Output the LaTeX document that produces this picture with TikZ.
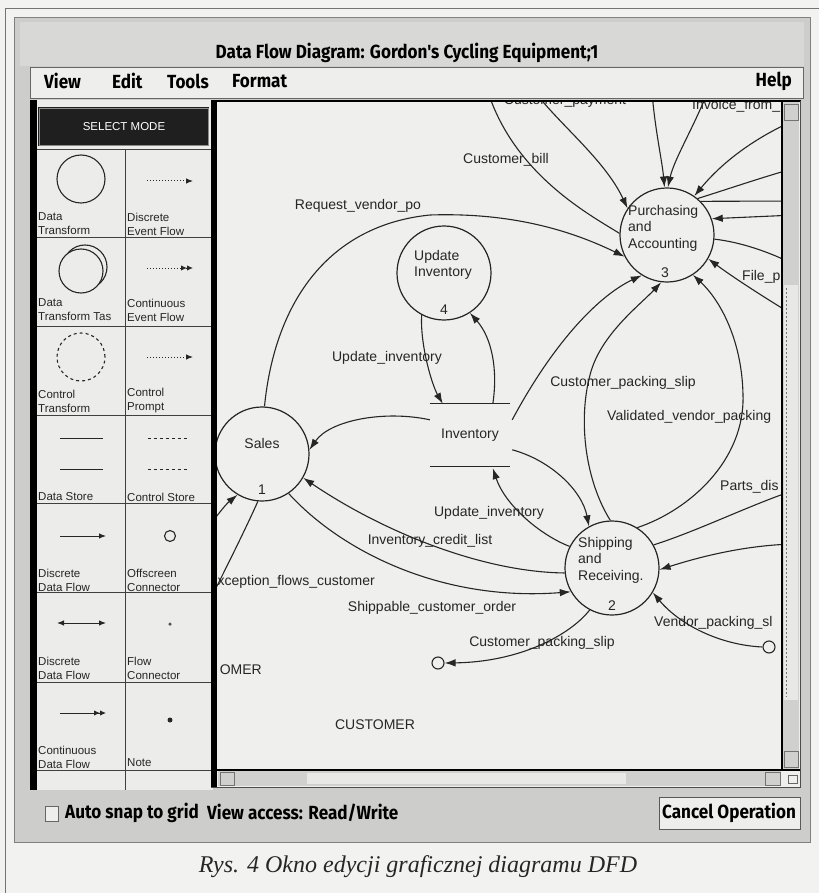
\documentclass[tikz,border=0pt]{standalone}
\usepackage{fontspec}
\setmainfont{Liberation Sans}
\newfontfamily\uifont[FakeStretch=0.9]{Fira Sans}
\newfontfamily\capfont{Liberation Serif}
\usetikzlibrary{arrows.meta,calc}

\definecolor{pagebg}{HTML}{F2F2F0}
\definecolor{winframe}{HTML}{CDCDCB}
\definecolor{titlebar}{HTML}{D8D8D6}
\definecolor{menubg}{HTML}{EEEEEC}
\definecolor{canvasbg}{HTML}{EFEFED}
\definecolor{cellbg}{HTML}{ECECEA}
\definecolor{ink}{HTML}{262626}
\definecolor{trackgray}{HTML}{D0D0CE}
\definecolor{thumbgray}{HTML}{E8E8E6}

\tikzset{
  flow/.style={draw=ink, line width=1.1pt},
  headed/.style={flow, -{Latex[length=11pt,width=7.5pt]}},
  proc/.style={circle, draw=ink, line width=1.2pt, minimum size=94pt, inner sep=0pt},
  store/.style={rectangle, minimum width=80pt, minimum height=62pt, inner sep=0pt,
                font=\fontsize{14}{16}\selectfont, text=ink},
  lbl/.style={font=\fontsize{14}{16.5}\selectfont, text=ink, inner sep=0pt},
  offconn/.style={circle, draw=ink, line width=1.1pt, minimum size=12pt, inner sep=0pt},
  palcell/.style={font=\fontsize{11.5}{14}\selectfont, text=ink, inner sep=0pt, anchor=west, align=left},
  palline/.style={draw=ink, line width=1pt},
  paltip/.style={-{Latex[length=7pt,width=5.5pt]}},
  paltwin/.style={-{Latex[length=6pt,width=5.5pt]Latex[length=6pt,width=5.5pt]}},
  palboth/.style={{Latex[length=7pt,width=5.5pt]}-{Latex[length=7pt,width=5.5pt]}},
  uitext/.style={font=\uifont\bfseries\fontsize{19}{21}\selectfont, text=black, inner sep=0pt},
  gridrule/.style={draw=black!75, line width=0.9pt},
}

\begin{document}
\begin{tikzpicture}[x=1pt,y=-1pt]
\useasboundingbox (0,0) rectangle (819,893);
\fill[pagebg] (0,0) rectangle (819,893);
% page rules
\draw[black!55, line width=1pt] (5,893) -- (5,9) -- (819,9);

% ---------- window chrome ----------
\fill[winframe] (14,18) rectangle (810,842);
\draw[black!50, line width=1pt] (14,18) rectangle (810,842);
\fill[titlebar] (20,22) rectangle (804,66);
\node[uitext] (title) at (407,53) {Data Flow Diagram: Gordon's Cycling Equipment;1};
\fill[menubg] (30,67) rectangle (803,98);
\draw[black!60, line width=0.8pt] (30,67) rectangle (803,98);
\node[uitext, anchor=west] (mView) at (44,81) {View};
\node[uitext, anchor=west] (mEdit) at (112,81) {Edit};
\node[uitext, anchor=west] (mTools) at (167,81) {Tools};
\node[uitext, anchor=west] (mFormat) at (232,81) {Format};
\node[uitext, anchor=east] (mHelp) at (792,81) {Help};

% ---------- tool palette ----------
\fill[cellbg] (37,100) rectangle (213,790);
\fill[black] (30,100) rectangle (37,790);
\fill[black!88] (38,107) rectangle (209,146);
\draw[black!45, line width=0.8pt] (39,108) rectangle (208,145);
\node[font=\fontsize{11.5}{13}\selectfont, text=white, inner sep=0pt] (selmode) at (124,127) {SELECT MODE};
\foreach \yy in {149,237,326,415,503,592,682,770} \draw[gridrule] (37,\yy) -- (213,\yy);
\draw[gridrule] (125,149) -- (125,790);

% row 1
\node[circle, draw=ink, line width=1.1pt, minimum size=48pt, inner sep=0pt] (symDT) at (81,179) {};
\node[palcell] (labDT) at (38,224) {Data\\Transform};
\coordinate (devA) at (147,181); \coordinate (devB) at (193,181);
\draw[palline, dotted, paltip] (devA) -- (devB);
\node[palcell] (labDEV) at (127,224) {Discrete\\Event Flow};
% row 2
\node[circle, draw=ink, line width=1.1pt, minimum size=44pt, inner sep=0pt] (symTT1) at (85,267) {};
\node[circle, draw=ink, fill=cellbg, line width=1.1pt, minimum size=44pt, inner sep=0pt] (symTT2) at (81,271) {};
\node[palcell] (labTT) at (38,310) {Data\\Transform Tas};
\coordinate (cevA) at (147,268); \coordinate (cevB) at (193,268);
\draw[palline, dotted, paltwin] (cevA) -- (cevB);
\node[palcell] (labCEV) at (127,310) {Continuous\\Event Flow};
% row 3
\node[circle, draw=ink, dash pattern=on 3pt off 3pt, line width=1.1pt, minimum size=48pt, inner sep=0pt] (symCT) at (81,357) {};
\node[palcell] (labCT) at (38,401) {Control\\Transform};
\coordinate (cpA) at (147,357); \coordinate (cpB) at (193,357);
\draw[palline, dotted, paltip] (cpA) -- (cpB);
\node[palcell] (labCP) at (127,401) {Control\\Prompt};
% row 4
\coordinate (dsA) at (60,438); \coordinate (dsB) at (103,438);
\coordinate (dsC) at (60,469); \coordinate (dsD) at (103,469);
\draw[palline] (dsA) -- (dsB); \draw[palline] (dsC) -- (dsD);
\node[palcell] (labDS) at (38,497) {Data Store};
\coordinate (csA) at (148,438); \coordinate (csB) at (189,438);
\coordinate (csC) at (148,469); \coordinate (csD) at (189,469);
\draw[palline, dash pattern=on 3pt off 3pt] (csA) -- (csB);
\draw[palline, dash pattern=on 3pt off 3pt] (csC) -- (csD);
\node[palcell] (labCS) at (127,497) {Control Store};
% row 5
\coordinate (ddA) at (60,536); \coordinate (ddB) at (106,536);
\draw[palline, paltip] (ddA) -- (ddB);
\node[palcell] (labDD) at (38,580) {Discrete\\Data Flow};
\node[circle, draw=ink, line width=1.1pt, minimum size=11pt, inner sep=0pt] (symOC) at (170,536) {};
\node[palcell] (labOC) at (127,580) {Offscreen\\Connector};
% row 6
\coordinate (bdA) at (57,623); \coordinate (bdB) at (106,623);
\draw[palline, palboth] (bdA) -- (bdB);
\node[palcell] (labBD) at (38,668) {Discrete\\Data Flow};
\node[circle, fill=ink!80, minimum size=3.5pt, inner sep=0pt] (symFC) at (170,624) {};
\node[palcell] (labFC) at (127,668) {Flow\\Connector};
% row 7
\coordinate (cdA) at (60,713); \coordinate (cdB) at (106,713);
\draw[palline, paltwin] (cdA) -- (cdB);
\node[palcell] (labCD) at (38,757) {Continuous\\Data Flow};
\node[circle, fill=ink, minimum size=5pt, inner sep=0pt] (symNote) at (170,720) {};
\node[palcell] (labNote) at (127,763) {Note};

% ---------- drawing canvas ----------
\fill[canvasbg] (213,100) rectangle (800,787);
\begin{scope}
  \clip (217,102) rectangle (782,770);

  % processes
  \node[proc] (sales) at (262,454) {};
  \node[proc] (upd) at (444,273) {};
  \node[proc] (purch) at (667,235) {};
  \node[proc] (ship) at (612,568) {};
  \node[lbl] (salesName) at (262,443) {Sales};
  \node[lbl] (salesNum) at (262,490) {1};
  \node[lbl, align=left] (updName) at (443,265) {Update\\Inventory};
  \node[lbl] (updNum) at (444,310) {4};
  \node[lbl, align=left, anchor=west] (purchName) at (628,228) {Purchasing\\and\\Accounting};
  \node[lbl] (purchNum) at (665,273) {3};
  \node[lbl, align=left, anchor=west] (shipName) at (578,560) {Shipping\\and\\Receiving.};
  \node[lbl] (shipNum) at (612,606) {2};

  % data store
  \node[store] (inv) at (470,435) {Inventory};
  \draw[flow] (inv.north west) -- (inv.north east);
  \draw[flow] (inv.south west) -- (inv.south east);

  % offscreen connectors
  \node[offconn] (offL) at (438,663) {};
  \node[offconn] (offR) at (769,647) {};

  % external entity names
  \node[lbl, anchor=east] (custA) at (262,670) {OMER};
  \node[lbl] (custB) at (375,725) {CUSTOMER};

  % free ends of flows leaving the visible area
  \coordinate (cbEnd) at (488,92);
  \coordinate (cpStart) at (535,92);
  \coordinate (topStart) at (652,92);
  \coordinate (invStart) at (706,96);
  \coordinate (eStart) at (795,120);
  \coordinate (fStart) at (795,168);
  \coordinate (gStart) at (795,201);
  \coordinate (hStart) at (795,215);
  \coordinate (iEnd) at (795,265);
  \coordinate (fileStart) at (795,316);
  \coordinate (partsEnd) at (795,490);
  \coordinate (rinStart) at (795,544);
  \coordinate (exIn) at (205,532);
  \coordinate (exOut) at (212,596);

  % flows around Update Inventory and the Inventory store
  \draw[headed] (upd.-118) .. controls (420,345) and (432,385) .. ($(inv.north west)+(13,0)$);
  \draw[headed] ($(inv.north west)+(63,0)$) .. controls (498,370) and (492,338) .. (upd.-57);
  \draw[headed] ($(inv.north west)+(0,16)$) .. controls (385,410) and (330,420) .. (sales.5);
  \draw[headed] (ship.153) .. controls (540,535) and (505,505) .. ($(inv.south west)+(63,2)$);
  \draw[headed] ($(inv.north east)+(2,46)$) .. controls (550,460) and (582,490) .. (ship.119);
  \draw[headed] ($(inv.north east)+(2,16)$) .. controls (555,340) and (600,295) .. (purch.-122);

  % flows between the processes
  \draw[headed] (sales.87) .. controls (275,300) and (330,225) .. (430,215)
                .. controls (520,212) and (580,235) .. (purch.207);
  \draw[headed] (ship.92) .. controls (585,480) and (578,420) .. (590,375)
                .. controls (600,335) and (640,305) .. (purch.-97);
  \draw[headed] (ship.58) .. controls (690,510) and (745,460) .. (743,395)
                .. controls (742,340) and (720,300) .. (purch.-57);
  \draw[headed] (sales.-56) .. controls (340,550) and (440,602) .. (ship.-150);
  \draw[headed] (ship.186) .. controls (480,572) and (380,530) .. (sales.-30);

  % flows to and from the edges
  \draw[flow] (purch.178) .. controls (590,215) and (515,175) .. (cbEnd);
  \draw[headed] (cpStart) .. controls (560,125) and (605,160) .. (purch.146);
  \draw[headed] (topStart) .. controls (655,130) and (662,160) .. (purch.93);
  \draw[headed] (invStart) .. controls (692,130) and (674,160) .. (purch.89);
  \draw[headed] (eStart) .. controls (750,140) and (720,165) .. (purch.55);
  \draw[flow] (fStart) .. controls (760,178) and (725,190) .. (purch.50);
  \draw[flow] (gStart) -- (purch.45);
  \draw[headed] (hStart) -- (purch.20);
  \draw[flow] (purch.-5) .. controls (740,242) and (770,252) .. (iEnd);
  \draw[headed] (fileStart) .. controls (760,295) and (730,275) .. (purch.-30);
  \draw[flow] (ship.29) .. controls (700,530) and (750,505) .. (partsEnd);
  \draw[headed] (rinStart) .. controls (740,545) and (690,560) .. (ship.-2);
  \draw[headed] (offR.west) .. controls (720,645) and (680,625) .. (ship.-31);
  \draw[headed] (ship.-118) .. controls (570,635) and (520,662) .. (offL.east);
  \draw[headed] (exIn) .. controls (215,518) and (225,505) .. (sales.-121);
  \draw[flow] (sales.-95) .. controls (245,530) and (230,560) .. (exOut);

  % flow names
  \node[lbl] (tReq) at (358,206) {Request\_vendor\_po};
  \node[lbl] (tBill) at (506,160) {Customer\_bill};
  \node[lbl] (tPay) at (565,101) {Customer\_payment};
  \node[lbl, anchor=west] (tInv) at (692,106) {Invoice\_from\_};
  \node[lbl, anchor=west] (tFile) at (742,277) {File\_p};
  \node[lbl] (tUpdA) at (387,358) {Update\_inventory};
  \node[lbl] (tUpdB) at (489,513) {Update\_inventory};
  \node[lbl] (tCredit) at (430,541) {Inventory\_credit\_list};
  \node[lbl, anchor=west] (tExc) at (208,582) {Exception\_flows\_customer};
  \node[lbl] (tShip) at (432,608) {Shippable\_customer\_order};
  \node[lbl] (tSlipA) at (623,383) {Customer\_packing\_slip};
  \node[lbl, anchor=west] (tValid) at (607,417) {Validated\_vendor\_packing};
  \node[lbl, anchor=west] (tParts) at (720,487) {Parts\_dis};
  \node[lbl, anchor=west] (tVend) at (654,623) {Vendor\_packing\_sl};
  \node[lbl] (tSlipB) at (542,643) {Customer\_packing\_slip};
\end{scope}

% canvas borders
\fill[black] (211,100) rectangle (217,787);
\draw[black, line width=2pt] (211,101) -- (801,101);
\draw[black, line width=1.4pt] (782,101) -- (782,770);
\draw[black, line width=1.4pt] (217,770) -- (800,770);
\draw[black!70, line width=1pt] (800,101) -- (800,787) -- (211,787);

% vertical scroll bar
\fill[trackgray] (783,102) rectangle (799,769);
\fill[thumbgray] (784,285) rectangle (798,700);
\draw[black!55, dash pattern=on 2pt off 2pt] (786,288) -- (786,697);
\draw[black!55, line width=0.6pt] (784,104) rectangle (798,120);
\draw[black!55, line width=0.6pt] (784,751) rectangle (798,767);
% horizontal scroll bar
\fill[trackgray] (218,771) rectangle (781,786);
\fill[thumbgray] (307,773) rectangle (626,784);
\draw[black!55, line width=0.6pt] (220,772) rectangle (234,785);
\draw[black!55, line width=0.6pt] (765,772) rectangle (780,785);
\draw[black!60, line width=0.8pt] (788,775) rectangle (797,783);

% ---------- status row ----------
\fill[menubg] (45,806) rectangle (58,821);
\draw[black!60, line width=0.8pt] (45,806) rectangle (58,821);
\node[uitext, anchor=west] (snap) at (65,813) {Auto snap to grid};
\node[uitext, anchor=west] (access) at (207,813) {View access: Read/Write};
\fill[menubg] (659,797) rectangle (800,829);
\draw[black!65, line width=0.9pt] (659,797) rectangle (800,829);
\node[uitext] (cancel) at (729,813) {Cancel Operation};

% ---------- caption ----------
\node[font=\capfont\itshape\fontsize{24}{26}\selectfont, text=black!85, inner sep=0pt] (caption) at (418,867) {Rys. 4 Okno edycji graficznej diagramu DFD};
\end{tikzpicture}
\end{document}
